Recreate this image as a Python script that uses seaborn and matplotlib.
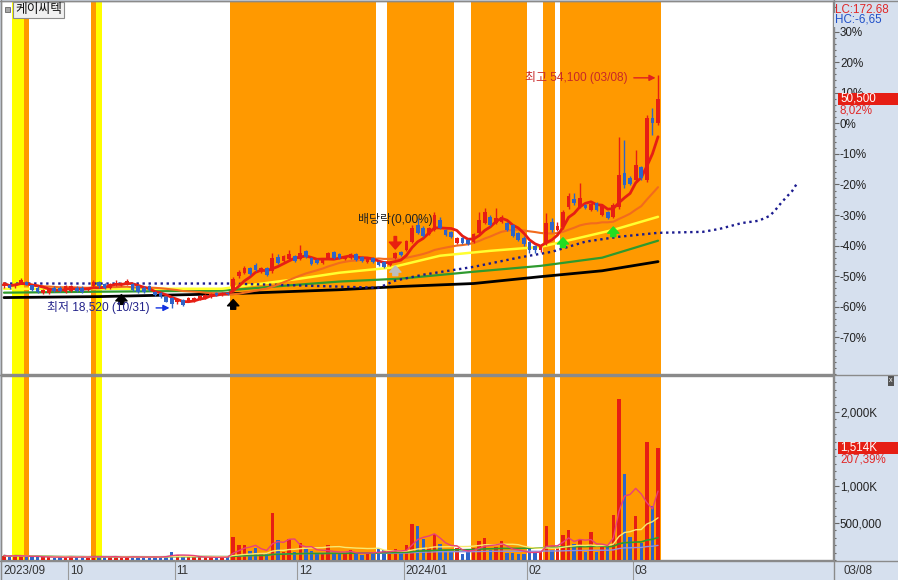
# -*- coding: utf-8 -*-
import numpy as np
import pandas as pd
import seaborn as sns
import matplotlib.pyplot as plt
from matplotlib.patches import Rectangle
from matplotlib.lines import Line2D
from matplotlib.transforms import blended_transform_factory

sns.set_style("white")
plt.rcParams['font.family'] = ['Liberation Sans', 'Noto Sans CJK KR', 'DejaVu Sans']

# 케이씨텍 일봉 2023/09/12 ~ 2024/03/08 (118 거래일)
open_ = [21800, 22100, 21800, 22400, 22550, 21950, 21600, 20850, 20850, 21600,
         21600, 21000, 21150, 21600, 21600, 21300, 21800, 22550, 22250, 21600,
         21950, 21950, 22100, 22250, 21800, 21600, 21800, 21000, 20850, 20250,
         20100, 19350, 19800, 19500, 19650, 19950, 20100, 20250, 20850, 20550,
         20850, 21300, 23450, 23900, 24650, 25150, 24050, 24650, 24200, 26350,
         25750, 26050, 26500, 26050, 27250, 26200, 25900, 25450, 26200, 27100,
         26800, 26050, 26200, 26800, 26350, 25600, 26200, 25600, 25600, 25150,
         26200, 27100, 27400, 28650, 31200, 30750, 29850, 30450, 32000, 30450,
         30150, 28500, 29250, 28950, 28650, 30000, 31500, 32450, 31500, 31650,
         31500, 31200, 30000, 29250, 28650, 28000, 27400, 28500, 31650, 30450,
         30900, 33950, 35200, 33950, 34250, 33500, 34550, 32750, 33200, 32450,
         33950, 39150, 38350, 38050, 40050, 38050, 47500, 46750]
high = [22400, 22250, 22400, 23150, 22700, 22100, 21800, 21450, 21600, 21800,
        21800, 21950, 21950, 21800, 21800, 21600, 22850, 22700, 22400, 22400,
        22850, 22550, 23000, 22400, 21950, 21800, 21950, 21150, 21000, 20400,
        20250, 19950, 19950, 20250, 20250, 20550, 20700, 20850, 21000, 21000,
        21000, 23300, 24350, 24950, 24800, 25450, 24800, 24800, 26950, 26800,
        26650, 27400, 26650, 28150, 27400, 26350, 26050, 26050, 27100, 27250,
        26950, 26500, 26950, 26950, 26500, 26200, 26350, 25750, 25750, 25750,
        27100, 27250, 28950, 31200, 32300, 31050, 30900, 33200, 32450, 30600,
        30300, 29400, 29400, 29100, 30000, 33200, 33800, 32750, 33800, 32750,
        31650, 31350, 30150, 29550, 28800, 28150, 28000, 33050, 32300, 31650,
        33500, 36100, 36100, 37600, 34400, 34550, 34700, 34250, 33350, 34550,
        44600, 44150, 38650, 42650, 40200, 47950, 49050, 54100]
low = [21600, 21450, 21600, 22250, 21950, 21150, 20850, 20700, 20700, 21000,
       21000, 20850, 21000, 21000, 20850, 21150, 21600, 21600, 21450, 21450,
       21800, 21800, 21950, 21150, 20850, 20850, 21150, 20400, 20100, 19350,
       18520, 19050, 18750, 19350, 19500, 19800, 19950, 20100, 20400, 20400,
       20550, 21000, 23150, 23750, 23600, 24200, 23900, 23450, 23900, 25300,
       25600, 25900, 25600, 25900, 26200, 25150, 25300, 25300, 26050, 26050,
       26050, 25900, 26050, 25750, 25600, 25450, 25450, 24950, 24650, 24950,
       26050, 26500, 27250, 28500, 29850, 29400, 29700, 30300, 30600, 29550,
       29250, 28300, 28300, 28150, 28500, 29850, 31350, 31050, 31350, 31500,
       30300, 29400, 28800, 28000, 26950, 26950, 27100, 28150, 30150, 30300,
       30600, 33650, 34250, 33800, 33650, 33350, 33350, 32600, 32150, 32300,
       33650, 36850, 37300, 37900, 38050, 37750, 44900, 46450]
close = [22250, 21600, 22250, 22850, 22100, 21300, 21000, 21300, 21450, 21150,
         21150, 21800, 21800, 21150, 21000, 21450, 22550, 21800, 21600, 22250,
         22400, 22400, 22700, 21300, 21000, 21000, 21300, 20550, 20250, 19500,
         19050, 19800, 18900, 20100, 20100, 20400, 20550, 20700, 20550, 20850,
         20700, 23000, 24050, 24650, 23750, 24350, 24650, 23600, 26200, 25450,
         26500, 26800, 25750, 26950, 26350, 25300, 25450, 25900, 26950, 26200,
         26200, 26350, 26800, 25900, 25750, 26050, 25600, 25150, 24800, 25600,
         26950, 26650, 28800, 30750, 30000, 29550, 30750, 32750, 30750, 29700,
         29400, 29250, 28500, 28300, 29850, 32000, 33200, 31200, 32300, 32450,
         30450, 29550, 28950, 28300, 27400, 27400, 27850, 31500, 30450, 31050,
         33200, 35650, 34550, 35350, 33800, 34400, 33500, 34100, 32300, 34250,
         38850, 37300, 37450, 40350, 38350, 47500, 46750, 50500]
volume_k = [60, 45, 70, 55, 40, 35, 50, 40, 45, 30, 35, 40, 55, 35, 40, 30, 60, 50, 35, 40,
            45, 30, 40, 55, 35, 40, 30, 45, 50, 60, 110, 70, 45, 40, 35, 40, 45, 35, 30, 40,
            45, 310, 200, 200, 120, 160, 80, 90, 640, 270, 110, 290, 110, 230, 150, 120, 80,
            80, 200, 100, 80, 80, 130, 100, 70, 90, 100, 160, 130, 80, 150, 90, 200, 490,
            460, 290, 180, 350, 210, 130, 110, 160, 80, 130, 160, 260, 300, 130, 170, 250,
            100, 90, 80, 80, 160, 100, 110, 460, 130, 160, 340, 400, 220, 270, 110, 380,
            110, 200, 180, 610, 2170, 1160, 310, 590, 230, 1590, 730.13, 1514.2]

# 장기 이동평균선 / 선행스팬 (일자 index, 가격)
ma60_idx = [0, 17, 39, 53, 60, 69, 78, 87, 96, 100, 109, 117]
ma60_val = [21450, 21450, 21450, 23000, 23900, 24650, 26500, 27250, 27850, 28650, 30450, 32450]
ma120_idx = [0, 17, 39, 53, 60, 71, 84, 96, 107, 117]
ma120_val = [20850, 21000, 21150, 22100, 22550, 23000, 24050, 24950, 26200, 28800]
ma240_idx = [0, 17, 41, 60, 71, 84, 96, 107, 117]
ma240_val = [20100, 20250, 20700, 21300, 21800, 22250, 23300, 24200, 25600]
span_idx = [0, 40, 53, 67, 70, 75, 84, 92, 98, 104, 110, 117, 125, 128, 132, 135, 137,
            138, 139, 140, 141, 142]
span_val = [22250, 22250, 21950, 21600, 22700, 23600, 24800, 26200, 27100, 28650, 29400,
            30000, 30150, 30600, 31500, 31850, 32600, 33500, 34550, 35500, 36400, 37750]

# 배경 강조 구간 (first, last 일자 index)
orange_runs = [(4, 4), (16, 16), (41, 66), (69, 80), (84, 93), (97, 98), (100, 117)]
yellow_runs = [(2, 3), (17, 17)]

# 신호 화살표 (일자 index, 가격)
black_sig = [(21, 20550), (41, 19800)]
green_sig = [(100, 29250), (109, 30900)]
gray_sig = [(70, 24950)]
exdiv_day = 70

month_idx = [0, 12, 31, 53, 72, 94, 113]
month_txt = ["2023/09", "10", "11", "12", "2024/01", "02", "03"]

RED = "#E61E14"
BLUE = "#2F64C8"
ORANGE = "#FF9900"
YELLOW = "#FFFF00"
STRIP = "#D6E0EE"
GRAY = "#8A8A8A"

W, H = 898, 580


def box(x0, y0, x1, y1):
    return [x0 / W, 1 - y1 / H, (x1 - x0) / W, (y1 - y0) / H]


fig = plt.figure(figsize=(W / 100, H / 100), dpi=100, facecolor=STRIP)
ax = fig.add_axes(box(1, 1, 833, 374))
axv = fig.add_axes(box(1, 376, 833, 560), sharex=ax)

o = np.array(open_, float)
h = np.array(high, float)
l = np.array(low, float)
c = np.array(close, float)
vol = np.array(volume_k) * 1000
n = len(c)
days = np.arange(n)
col = np.where(c >= o, RED, BLUE)
base = c[-2]

for a in (ax, axv):
    a.set_facecolor("white")
    for first, last in orange_runs:
        a.axvspan(first - 0.5, last + 0.5, color=ORANGE, lw=0, zorder=0)
    for first, last in yellow_runs:
        a.axvspan(first - 0.5, last + 0.5, color=YELLOW, lw=0, zorder=0)
    for s in a.spines.values():
        s.set_color(GRAY)
        s.set_linewidth(1)
    a.tick_params(axis="x", bottom=False, labelbottom=False)

# 이동평균선
s = pd.Series(c)
ma5 = s.rolling(5, min_periods=1).mean()
ma20 = s.rolling(20, min_periods=1).mean()
sns.lineplot(x=ma240_idx, y=ma240_val, ax=ax, color="black", lw=2.0, zorder=2)
sns.lineplot(x=ma120_idx, y=ma120_val, ax=ax, color="#2E9A2E", lw=1.6, zorder=2)
sns.lineplot(x=ma60_idx, y=ma60_val, ax=ax, color="#FFFF30", lw=1.8, zorder=2)
ax.plot(span_idx, span_val, color="#1B1B8F", lw=1.7, linestyle=(0, (1, 1.55)), zorder=2)
sns.lineplot(x=days, y=ma20, ax=ax, color="#F26B1D", lw=1.5, zorder=3)
sns.lineplot(x=days, y=ma5, ax=ax, color=RED, lw=2.0, zorder=3)

# 캔들
ax.vlines(days, l, h, colors=col, lw=1, zorder=4)
ax.bar(days, np.maximum(np.abs(c - o), 80), bottom=np.minimum(o, c), width=0.66,
       color=col, lw=0, zorder=5)

ax.set_xlim(-0.54, 148.3)
ax.set_ylim(8528, 65328)
pct = np.arange(-70, 31, 10)
ax.yaxis.tick_right()
ax.set_yticks(base * (1 + pct / 100))
ax.set_yticklabels([f"{p}%" for p in pct])
ax.set_yticks(base * (1 + np.arange(-82, 42, 2) / 100), minor=True)
ax.tick_params(axis="y", which="major", direction="out", length=4, width=0.8,
               color="#666666", labelsize=8.4, labelcolor="#222222", pad=1)
ax.tick_params(axis="y", which="minor", direction="out", length=2, width=0.8, color="#666666")

# 신호 화살표
for d, p in black_sig + green_sig + gray_sig:
    cc = "black" if (d, p) in black_sig else ("#22DD22" if (d, p) in green_sig else "#BDBDBD")
    ax.annotate("", xy=(d, p), xytext=(0, -7), textcoords="offset points",
                arrowprops=dict(arrowstyle="simple,head_length=0.5,head_width=0.9,tail_width=0.4",
                                color=cc, mutation_scale=9, shrinkA=0, shrinkB=0), zorder=7)

ax.annotate("", xy=(exdiv_day, h[exdiv_day]), xytext=(0, 11), textcoords="offset points",
            arrowprops=dict(arrowstyle="simple,head_length=0.55,head_width=0.95,tail_width=0.2",
                            color="#E82010", mutation_scale=9, shrinkA=0, shrinkB=2), zorder=7)
ax.annotate("배당락(0,00%)", xy=(exdiv_day, h[exdiv_day]), xytext=(0, 23),
            textcoords="offset points", ha="center", va="center", fontsize=8.6,
            color="#222222", zorder=7)

i_hi = int(np.argmax(h))
i_lo = int(np.argmin(l))
ax.annotate(f"최고 {int(h[i_hi]):,} (03/08)", xy=(i_hi - 0.45, h[i_hi] - 400), xytext=(-20, 0),
            textcoords="offset points", ha="right", va="center", fontsize=8.6, color="#C82828",
            arrowprops=dict(arrowstyle="-|>", color="#E02020", lw=1, shrinkA=2, shrinkB=0,
                            mutation_scale=9), zorder=7)
ax.annotate(f"최저 {int(l[i_lo]):,} (10/31)", xy=(i_lo - 0.4, l[i_lo]), xytext=(-14, 0),
            textcoords="offset points", ha="right", va="center", fontsize=8.6, color="#22228A",
            arrowprops=dict(arrowstyle="-|>", color="#1030E0", lw=1, shrinkA=2, shrinkB=0,
                            mutation_scale=9), zorder=7)

# 거래량
axv.bar(days, vol, width=0.62, color=col, lw=0, zorder=3)
vs = pd.Series(vol)
sns.lineplot(x=days, y=vs.rolling(120, min_periods=1).mean(), ax=axv, color="#9090E0", lw=1, zorder=4)
sns.lineplot(x=days, y=vs.rolling(60, min_periods=1).mean(), ax=axv, color="#2E9A2E", lw=1.2, zorder=4)
sns.lineplot(x=days, y=vs.rolling(20, min_periods=1).mean(), ax=axv, color="#F8E870", lw=1, zorder=4)
sns.lineplot(x=days, y=vs.rolling(5, min_periods=1).mean(), ax=axv, color="#E8407A", lw=1, zorder=4)
axv.set_ylim(0, 2486000)
axv.yaxis.tick_right()
axv.set_yticks([500000, 1000000, 2000000])
axv.set_yticklabels(["500,000", "1,000K", "2,000K"])
axv.set_yticks(np.arange(0, 2500000, 100000), minor=True)
axv.tick_params(axis="y", which="major", direction="out", length=4, width=0.8,
                color="#666666", labelsize=8.4, labelcolor="#222222", pad=1)
axv.tick_params(axis="y", which="minor", direction="out", length=2, width=0.8, color="#666666")
axv.set_ylabel("")
ax.set_ylabel("")

# 오른쪽 값 표시
fig.canvas.draw()
lc = (c[-1] / l.min() - 1) * 100
hc = (c[-1] / h.max() - 1) * 100
fig.text(835 / W, 1 - 9 / H, f"LC:{lc:.2f}".replace(".", ","), color="#E02828",
         fontsize=8.4, va="center")
fig.text(835 / W, 1 - 20 / H, f"HC:{hc:.2f}".replace(".", ","), color="#2050C8",
         fontsize=8.4, va="center", bbox=dict(boxstyle="square,pad=0.05", fc=STRIP, ec="none"))

yp = ax.transData.transform((0, c[-1]))[1] / fig.bbox.height
fig.patches.append(Rectangle((838 / W, yp - 6 / H), 60 / W, 12 / H, transform=fig.transFigure,
                             fc=RED, ec="none"))
fig.text(840 / W, yp, f"{int(c[-1]):,}", color="white", fontsize=8.4, va="center")
fig.text(840 / W, yp - 12 / H, f"{(c[-1] / c[-2] - 1) * 100:.2f}%".replace(".", ","),
         color="#E02828", fontsize=8.4, va="center")

yv = axv.transData.transform((0, vol[-1]))[1] / fig.bbox.height
fig.patches.append(Rectangle((838 / W, yv - 6 / H), 60 / W, 12 / H, transform=fig.transFigure,
                             fc=RED, ec="none"))
fig.text(840 / W, yv, f"{vol[-1] / 1000:,.0f}K", color="white", fontsize=8.4, va="center")
fig.text(840 / W, yv - 12 / H, f"{vol[-1] / vol[-2] * 100:.2f}%".replace(".", ","),
         color="#E02828", fontsize=8.4, va="center")

# 종목명
fig.patches.append(Rectangle((5 / W, 1 - 12 / H), 5 / W, 5 / H, transform=fig.transFigure,
                             fc="#A8A8A8", ec="#666666", lw=0.6))
fig.text(15 / W, 1 - 10 / H, "케이씨텍", fontsize=9.2, va="center", color="#111111",
         bbox=dict(boxstyle="square,pad=0.12", fc="#F0F0F0", ec="#8A8A8A", lw=0.8))
fig.text(891 / W, 1 - 381 / H, "x", fontsize=5, ha="center", va="center", color="white",
         bbox=dict(boxstyle="square,pad=0.25", fc="#555555", ec="none"))

# 날짜 축
tr = blended_transform_factory(axv.transData, fig.transFigure)
for i, t in zip(month_idx, month_txt):
    fig.lines.append(Line2D([i - 0.5, i - 0.5], [0, 1 - 560 / H], transform=tr,
                            color="#9A9A9A", lw=0.8))
    fig.text(i - 0.5 + 0.3, 1 - 571 / H, t, transform=tr, fontsize=8.4, va="center",
             ha="left", color="#333333")
fig.text(843 / W, 1 - 571 / H, "03/08", fontsize=8.4, va="center", color="#333333")

for yy in (374.5, 560.5):
    fig.lines.append(Line2D([0, 1], [1 - yy / H] * 2, transform=fig.transFigure, color=GRAY, lw=1))
fig.lines.append(Line2D([833.5 / W] * 2, [0, 1], transform=fig.transFigure, color=GRAY, lw=1))
fig.lines.append(Line2D([0, 1], [1 - 0.5 / H] * 2, transform=fig.transFigure, color=GRAY, lw=1))
fig.lines.append(Line2D([0.5 / W] * 2, [0, 1], transform=fig.transFigure, color=GRAY, lw=1))

fig.savefig("out.png", dpi=100, facecolor=STRIP)
